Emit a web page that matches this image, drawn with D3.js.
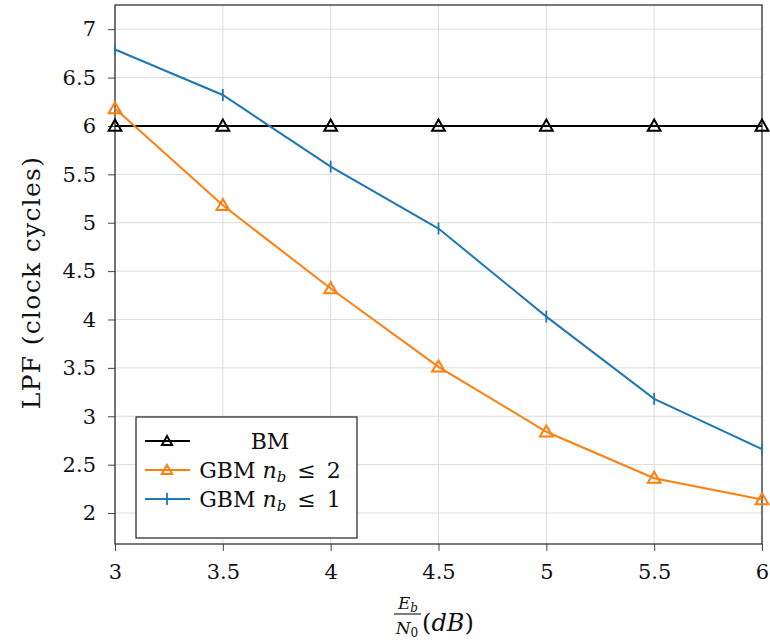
<!DOCTYPE html>
<html>
<head>
<meta charset="utf-8">
<script src="https://cdn.jsdelivr.net/npm/d3@7"></script>
<style>
  html, body { margin: 0; padding: 0; background: #fff; }
  svg text { font-family: "DejaVu Serif", "Liberation Serif", serif; }
</style>
</head>
<body>
<svg id="chart" width="770" height="644"></svg>
<script>
// Eb/N0 sweep (dB)
const ebn0 = [3, 3.5, 4, 4.5, 5, 5.5, 6];
// LPF in clock cycles for each decoder
const bm   = [6, 6, 6, 6, 6, 6, 6];
const gbm2 = [6.18, 5.18, 4.32, 3.51, 2.84, 2.36, 2.14];
const gbm1 = [6.79, 6.32, 5.58, 4.94, 4.03, 3.18, 2.66];
const xTicks = [3, 3.5, 4, 4.5, 5, 5.5, 6];
const yTicks = [2, 2.5, 3, 3.5, 4, 4.5, 5, 5.5, 6, 6.5, 7];

const series = [
  { name: "BM", values: bm, color: "#000000", marker: "triangle" },
  { name: "GBM2", values: gbm2, color: "#ff7f0e", marker: "triangle" },
  { name: "GBM1", values: gbm1, color: "#1f77b4", marker: "bar" }
];

const FONT = "'DejaVu Serif', 'Liberation Serif', serif";
const svg = d3.select("#chart");
const m = { left: 115, right: 762, top: 5, bottom: 544 };

const x = d3.scaleLinear().domain([3, 6]).range([m.left, m.right]);
const y = d3.scaleLinear().domain([1.68, 7.25]).range([m.bottom, m.top]);

// grid
const grid = svg.append("g");
grid.selectAll(".gx").data(xTicks).join("line")
  .attr("x1", d => x(d)).attr("x2", d => x(d))
  .attr("y1", m.top).attr("y2", m.bottom)
  .attr("stroke", "#dcdcdc").attr("stroke-width", 1);
grid.selectAll(".gy").data(yTicks).join("line")
  .attr("x1", m.left).attr("x2", m.right)
  .attr("y1", d => y(d)).attr("y2", d => y(d))
  .attr("stroke", "#dcdcdc").attr("stroke-width", 1);

// axes
const fmt = d => String(d);
const xAxis = svg.append("g").attr("transform", `translate(0,${m.bottom})`)
  .call(d3.axisBottom(x).tickValues(xTicks).tickFormat(fmt).tickSize(7).tickPadding(13));
const yAxis = svg.append("g").attr("transform", `translate(${m.left},0)`)
  .call(d3.axisLeft(y).tickValues(yTicks).tickFormat(fmt).tickSize(7).tickPadding(12));
[xAxis, yAxis].forEach(a => {
  a.attr("font-family", FONT);
  a.select(".domain").remove();
  a.selectAll(".tick line").attr("stroke", "#444").attr("stroke-width", 1);
  a.selectAll(".tick text").attr("fill", "#111").style("font-size", "21px")
    .style("font-family", FONT);
});

// frame
svg.append("rect")
  .attr("x", m.left).attr("y", m.top)
  .attr("width", m.right - m.left).attr("height", m.bottom - m.top)
  .attr("fill", "none").attr("stroke", "#333").attr("stroke-width", 1.3);

// lines
const line = d3.line().x((d, i) => x(ebn0[i])).y(d => y(d));

function drawMarker(g, s, cx, cy, small) {
  if (s.marker === "triangle") {
    g.append("path")
      .attr("d", d3.symbol().type(d3.symbolTriangle).size(small ? 45 : 70)())
      .attr("transform", `translate(${cx},${cy + 1})`)
      .attr("fill", "none").attr("stroke", s.color).attr("stroke-width", 2);
  } else {
    g.append("line")
      .attr("x1", cx).attr("x2", cx).attr("y1", cy - 6).attr("y2", cy + 6)
      .attr("stroke", s.color).attr("stroke-width", 1.8);
  }
}

const plot = svg.append("g");
series.forEach(s => {
  plot.append("path").datum(s.values)
    .attr("d", line).attr("fill", "none")
    .attr("stroke", s.color).attr("stroke-width", 2);
});
series.forEach(s => {
  const g = plot.append("g");
  s.values.forEach((v, i) => drawMarker(g, s, x(ebn0[i]), y(v), false));
});

// legend
const leg = svg.append("g");
leg.append("rect").attr("x", 136).attr("y", 417).attr("width", 221).attr("height", 121)
  .attr("fill", "#fff").attr("stroke", "#222").attr("stroke-width", 1.2);
const rows = [441, 470, 499];
series.forEach((s, i) => {
  const ry = rows[i];
  leg.append("line").attr("x1", 145).attr("x2", 190).attr("y1", ry).attr("y2", ry)
    .attr("stroke", s.color).attr("stroke-width", 2);
  drawMarker(leg, s, 167, ry, true);
  const t = leg.append("text").attr("x", 270).attr("y", ry + 8)
    .attr("text-anchor", "middle").style("font-size", "22px").attr("fill", "#111");
  if (s.name === "BM") {
    t.text("BM");
  } else {
    t.append("tspan").text("GBM ");
    t.append("tspan").style("font-style", "italic").text("n");
    t.append("tspan").style("font-style", "italic").style("font-size", "15px")
      .attr("dy", 4).text("b");
    t.append("tspan").attr("dy", -4).text("\u2002≤\u2002" + (s.name === "GBM2" ? "2" : "1"));
  }
});

// y label
svg.append("text")
  .attr("transform", `translate(40,${(m.top + m.bottom) / 2 + 8}) rotate(-90)`)
  .attr("text-anchor", "middle").style("font-size", "25px").style("letter-spacing", "1.3px")
  .attr("fill", "#111")
  .text("LPF (clock cycles)");

// x label: Eb / N0 (dB)
const xl = svg.append("g");
const numT = xl.append("text").attr("x", 408).attr("y", 609).attr("text-anchor", "middle")
  .style("font-size", "17px").attr("fill", "#111");
numT.append("tspan").style("font-style", "italic").text("E");
numT.append("tspan").style("font-style", "italic").style("font-size", "12px").attr("dy", 3).text("b");
xl.append("line").attr("x1", 394).attr("x2", 421).attr("y1", 614).attr("y2", 614)
  .attr("stroke", "#111").attr("stroke-width", 1.1);
const denT = xl.append("text").attr("x", 407).attr("y", 634).attr("text-anchor", "middle")
  .style("font-size", "17px").attr("fill", "#111");
denT.append("tspan").style("font-style", "italic").text("N");
denT.append("tspan").style("font-size", "12px").attr("dy", 3).text("0");
const dbT = xl.append("text").attr("x", 422).attr("y", 631)
  .style("font-size", "24px").attr("fill", "#111");
dbT.append("tspan").text("(");
dbT.append("tspan").style("font-style", "italic").text("dB");
dbT.append("tspan").text(")");
</script>
</body>
</html>
